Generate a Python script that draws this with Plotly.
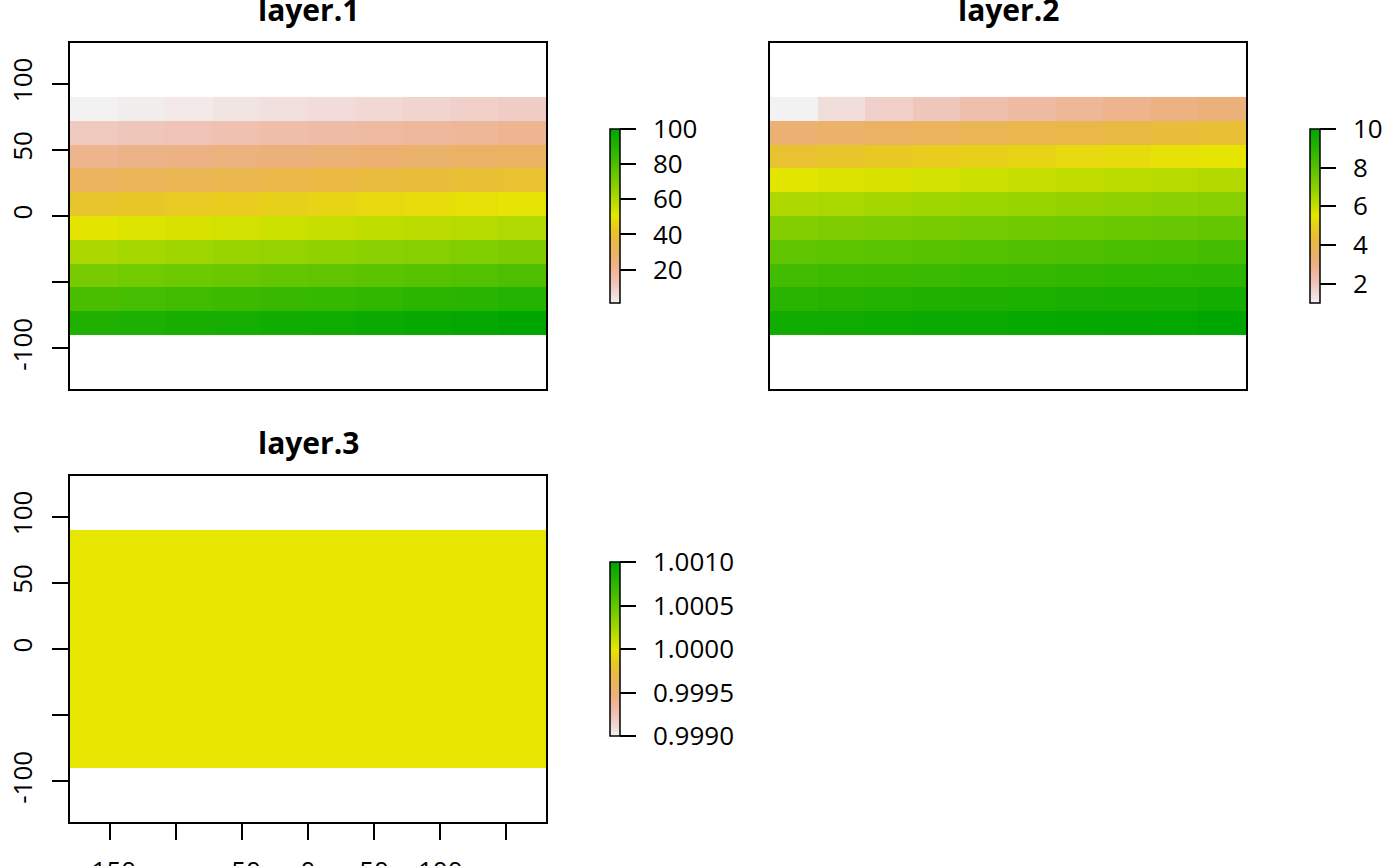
import colorsys
import plotly.graph_objects as go

# cell centres of the 10 x 10 raster (lon / lat)
lon = [-162, -126, -90, -54, -18, 18, 54, 90, 126, 162]
lat = [81, 63, 45, 27, 9, -9, -27, -45, -63, -81]

# layer.1 values, top row first
layer1 = [
    [1, 2, 3, 4, 5, 6, 7, 8, 9, 10],
    [11, 12, 13, 14, 15, 16, 17, 18, 19, 20],
    [21, 22, 23, 24, 25, 26, 27, 28, 29, 30],
    [31, 32, 33, 34, 35, 36, 37, 38, 39, 40],
    [41, 42, 43, 44, 45, 46, 47, 48, 49, 50],
    [51, 52, 53, 54, 55, 56, 57, 58, 59, 60],
    [61, 62, 63, 64, 65, 66, 67, 68, 69, 70],
    [71, 72, 73, 74, 75, 76, 77, 78, 79, 80],
    [81, 82, 83, 84, 85, 86, 87, 88, 89, 90],
    [91, 92, 93, 94, 95, 96, 97, 98, 99, 100],
]

# layer.2 values
layer2 = [
    [1.00, 1.41, 1.73, 2.00, 2.24, 2.45, 2.65, 2.83, 3.00, 3.16],
    [3.32, 3.46, 3.61, 3.74, 3.87, 4.00, 4.12, 4.24, 4.36, 4.47],
    [4.58, 4.69, 4.80, 4.90, 5.00, 5.10, 5.20, 5.29, 5.39, 5.48],
    [5.57, 5.66, 5.74, 5.83, 5.92, 6.00, 6.08, 6.16, 6.24, 6.32],
    [6.40, 6.48, 6.56, 6.63, 6.71, 6.78, 6.86, 6.93, 7.00, 7.07],
    [7.14, 7.21, 7.28, 7.35, 7.42, 7.48, 7.55, 7.62, 7.68, 7.75],
    [7.81, 7.87, 7.94, 8.00, 8.06, 8.12, 8.19, 8.25, 8.31, 8.37],
    [8.43, 8.49, 8.54, 8.60, 8.66, 8.72, 8.77, 8.83, 8.89, 8.94],
    [9.00, 9.06, 9.11, 9.17, 9.22, 9.27, 9.33, 9.38, 9.43, 9.49],
    [9.54, 9.59, 9.64, 9.70, 9.75, 9.80, 9.85, 9.90, 9.95, 10.00],
]

# layer.3 is constant
layer3 = [[1] * 10 for _ in range(10)]

lat_ticks = [-100, -50, 0, 50, 100]
lat_labels = ["-100", "", "0", "50", "100"]
lon_ticks = [-150, -100, -50, 0, 50, 100, 150]
lon_labels = ["-150", "", "-50", "0", "50", "100", ""]

cb1_ticks = [20, 40, 60, 80, 100]
cb1_labels = ["20", "40", "60", "80", "100"]
cb2_ticks = [2, 4, 6, 8, 10]
cb2_labels = ["2", "4", "6", "8", "10"]
cb3_ticks = [0.999, 0.9995, 1.0, 1.0005, 1.001]
cb3_labels = ["0.9990", "0.9995", "1.0000", "1.0005", "1.0010"]


# reversed terrain colours (light grey -> orange -> yellow -> green)
def terrain_scale(n=24):
    stops = []
    for i in range(n + 1):
        t = i / n
        p = 1 - t
        if p <= 0.5:
            q = p / 0.5
            h, s, v = 1 / 3 - q / 6, 1.0, 0.65 + 0.25 * q
        else:
            q = (p - 0.5) / 0.5
            h, s, v = 1 / 6 - q / 6, 1 - q, 0.9 + 0.05 * q
        r, g, b = colorsys.hsv_to_rgb(h, s, v)
        stops.append([t, "rgb(%d,%d,%d)" % (round(r * 255), round(g * 255), round(b * 255))])
    return stops


cscale = terrain_scale()
W, H = 1400, 866
FONT = "Open Sans"
TICKSIZE = 26
# invisible spacer that pushes colour bar labels away from their ticks
GAP = '<span style="font-size:10px;color:rgba(255,255,255,0)">00</span>'


def px_x(v):
    return v / W


def px_y(v):
    return 1 - v / H


def cbar(x_left, y_mid, ticks, labels):
    return dict(
        thicknessmode="pixels", thickness=10,
        lenmode="pixels", len=174,
        x=px_x(x_left), xanchor="left", xpad=0,
        y=px_y(y_mid), yanchor="middle", ypad=0,
        outlinecolor="black", outlinewidth=1.5,
        ticks="outside", ticklen=16, tickwidth=1.5, tickcolor="black",
        tickmode="array", tickvals=ticks, ticktext=[GAP + s for s in labels],
        tickfont=dict(family=FONT, size=TICKSIZE, color="black"),
    )


fig = go.Figure()
fig.add_trace(go.Heatmap(x=lon, y=lat, z=layer1, zmin=1, zmax=100, colorscale=cscale,
                         colorbar=cbar(610, 216, cb1_ticks, cb1_labels), xaxis="x", yaxis="y"))
fig.add_trace(go.Heatmap(x=lon, y=lat, z=layer2, zmin=1, zmax=10, colorscale=cscale,
                         colorbar=cbar(1310, 216, cb2_ticks, cb2_labels), xaxis="x2", yaxis="y2"))
fig.add_trace(go.Heatmap(x=lon, y=lat, z=layer3, zmin=0.999, zmax=1.001, colorscale=cscale,
                         colorbar=cbar(610, 649, cb3_ticks, cb3_labels), xaxis="x3", yaxis="y3"))

box = dict(showline=True, linecolor="black", linewidth=1.5, mirror=True,
           showgrid=False, zeroline=False, automargin=False,
           tickfont=dict(family=FONT, size=TICKSIZE, color="black"))
yr = [-130.8, 130.8]
xr = [-180, 180]
top_dom = [px_y(389), px_y(43)]
bot_dom = [px_y(822), px_y(476)]
lat_axis = dict(box, ticks="outside", ticklen=16, tickwidth=1.5, tickcolor="black",
                tickvals=lat_ticks, ticktext=lat_labels, tickangle=-90, ticklabelstandoff=10)

fig.update_layout(
    width=W, height=H,
    margin=dict(l=0, r=0, t=0, b=0),
    paper_bgcolor="white", plot_bgcolor="white",
    showlegend=False,
    font=dict(family=FONT, color="black"),
    xaxis=dict(box, domain=[px_x(70), px_x(546)], range=xr, anchor="y",
               showticklabels=False, ticks=""),
    yaxis=dict(lat_axis, domain=top_dom, range=yr, anchor="x"),
    xaxis2=dict(box, domain=[px_x(770), px_x(1246)], range=xr, anchor="y2",
                showticklabels=False, ticks=""),
    yaxis2=dict(box, domain=top_dom, range=yr, anchor="x2", showticklabels=False, ticks=""),
    xaxis3=dict(box, domain=[px_x(70), px_x(546)], range=xr, anchor="y3",
                ticks="outside", ticklen=16, tickwidth=1.5, tickcolor="black",
                tickvals=lon_ticks, ticktext=lon_labels, ticklabelstandoff=9),
    yaxis3=dict(lat_axis, domain=bot_dom, range=yr, anchor="x3"),
)

titles = [("layer.1", 308, 10), ("layer.2", 1008, 10), ("layer.3", 308, 442)]
for text, cx, cy in titles:
    fig.add_annotation(text="<b>%s</b>" % text, x=px_x(cx), y=px_y(cy), xref="paper", yref="paper",
                       xanchor="center", yanchor="middle", showarrow=False,
                       font=dict(family=FONT, size=30, color="black"))

# drop the browser's default page margin so the figure sits at the window corner
fig.write_html("out.html", config={"displayModeBar": False},
               post_script="document.body.style.margin='0';")
